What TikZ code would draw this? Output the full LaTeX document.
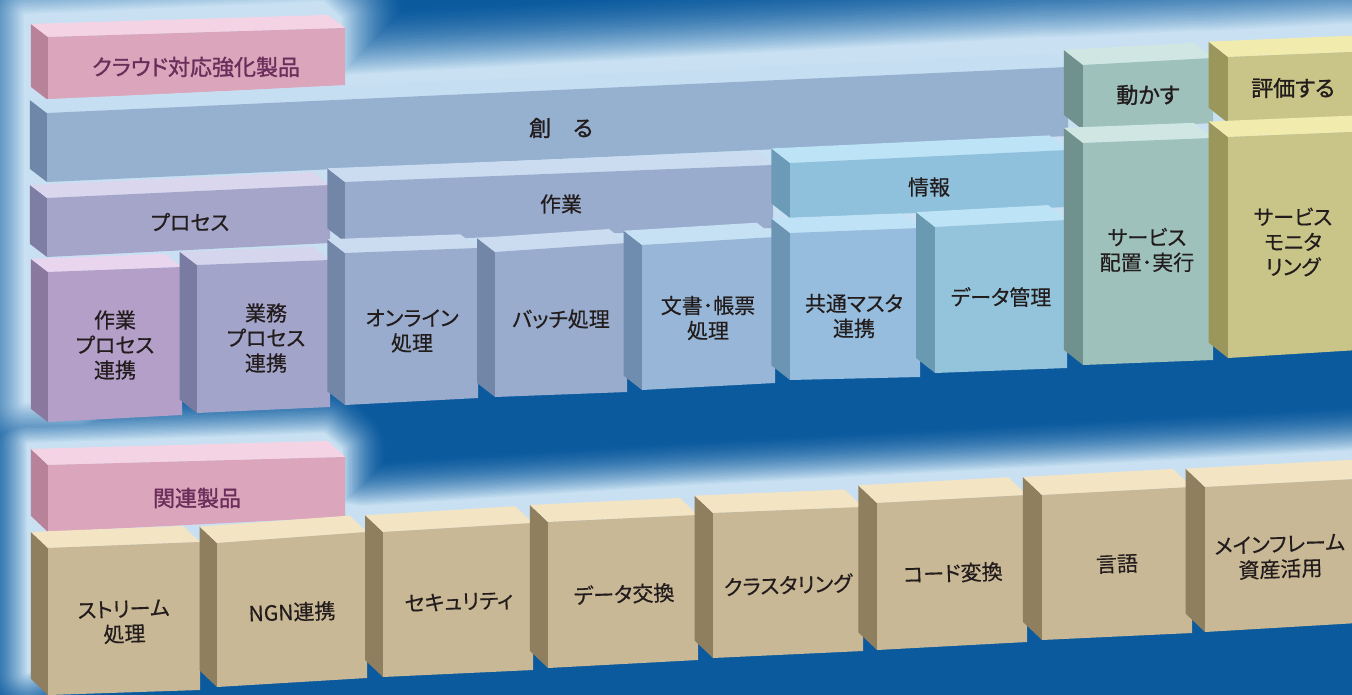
\documentclass[tikz,border=0pt]{standalone}
\usepackage{fontspec}
\newfontfamily\jp[RawFeature=+palt,FakeBold=0.4]{Noto Sans CJK JP}
\newfontfamily\jpm[RawFeature=+palt,FakeBold=1.2]{Noto Sans CJK JP}
\definecolor{bg}{HTML}{0B5A9E}
\definecolor{glow}{HTML}{D8ECF9}
\definecolor{txt}{HTML}{221C1C}
\definecolor{ptxt}{HTML}{6B2D5A}
% colour families: F front, T top, S side
\definecolor{pkF}{HTML}{DBA6BC}\definecolor{pkT}{HTML}{F4D4E4}\definecolor{pkS}{HTML}{B88298}
\definecolor{skF}{HTML}{96B0D0}\definecolor{skT}{HTML}{C6DEF2}\definecolor{skS}{HTML}{6F87A8}
\definecolor{prF}{HTML}{A5A5CA}\definecolor{prT}{HTML}{D9D6EE}\definecolor{prS}{HTML}{7E7DA3}
\definecolor{sgF}{HTML}{9AACCD}\definecolor{sgT}{HTML}{CBDCF1}\definecolor{sgS}{HTML}{7286A8}
\definecolor{jhF}{HTML}{8FC1DC}\definecolor{jhT}{HTML}{BCE3F6}\definecolor{jhS}{HTML}{6B9BB6}
\definecolor{mvF}{HTML}{B49FC8}\definecolor{mvT}{HTML}{E9D6EE}\definecolor{mvS}{HTML}{8A789E}
\definecolor{gmF}{HTML}{A3A4CA}\definecolor{gmT}{HTML}{D5D5EE}\definecolor{gmS}{HTML}{7A7BA2}
\definecolor{bsF}{HTML}{98B7D8}\definecolor{bsT}{HTML}{C6E0F4}\definecolor{bsS}{HTML}{6F8DAE}
\definecolor{kyF}{HTML}{96BDDD}\definecolor{kyT}{HTML}{BFE2F6}\definecolor{kyS}{HTML}{6C95B4}
\definecolor{dkF}{HTML}{93C4DB}\definecolor{dkT}{HTML}{BDE4F6}\definecolor{dkS}{HTML}{6A9AB1}
\definecolor{ugF}{HTML}{9EC1BB}\definecolor{ugT}{HTML}{D0E6E2}\definecolor{ugS}{HTML}{70918D}
\definecolor{hyF}{HTML}{C9C588}\definecolor{hyT}{HTML}{F1EBAE}\definecolor{hyS}{HTML}{9B965B}
\definecolor{tnF}{HTML}{C9B896}\definecolor{tnT}{HTML}{F3E4C4}\definecolor{tnS}{HTML}{8F7F5F}

\tikzset{
  lbl/.style={font=\jp\fontsize{21}{25}\selectfont, text=txt, align=center, inner sep=0pt},
  biglbl/.style={font=\jpm\fontsize{22}{26}\selectfont, text=txt, align=center, inner sep=0pt},
  plbl/.style={font=\jpm\fontsize{22}{26}\selectfont, text=ptxt, align=center, inner sep=0pt},
  blbl/.style={lbl, rotate=2},
}
\def\dyb{-13}
% \cube{name}{family}{x1}{x2}{top-left y}{top-right y}{bottom-left y}{bottom-right y}
\def\cube#1#2#3#4#5#6#7#8{%
  \pgfmathsetmacro\ddx{-17-0.002*#3}%
  \pgfmathsetmacro\ddy{\dyb-0.002*#3}%
  \fill[#2S] (#3,#5) -- (#3,#7) -- (#3+\ddx,#7+\ddy) -- (#3+\ddx,#5+\ddy) -- cycle;
  \fill[#2T] (#3,#5) -- (#4,#6) -- (#4+\ddx,#6+\ddy) -- (#3+\ddx,#5+\ddy) -- cycle;
  \fill[#2F] (#3,#5) -- (#4,#6) -- (#4,#8) -- (#3,#7) -- cycle;
  \coordinate (#1) at ({(#3+#4)/2},{(#5+#6+#7+#8)/4});
}
\def\topoutline{(30,412) -- (30,25) -- (328,12) -- (345,28) -- (345,86) -- (1048,48) -- (1063,48) -- (1195,42) -- (1208,42) -- (1343,35) -- (1420,33) -- (1420,250) -- (130,330) -- (80,412) -- cycle}
\def\botoutline{(32,680) -- (32,452) -- (328,442) -- (345,457) -- (345,512) -- (366,515) -- (680,495) -- (1420,456) -- (1420,560) -- (120,640) -- cycle}

\begin{document}
\begin{tikzpicture}[x=1pt,y=-1pt]
\useasboundingbox (0,0) rectangle (1352,695);
\clip (0,0) rectangle (1352,695);
\fill[bg] (0,0) rectangle (1352,695);

% soft glow behind the two groups (levels drawn from outer/dark to inner/light)
\foreach \i in {0,...,39}{
  \pgfmathsetmacro\wt{2+138*(1-\i/39)}
  \pgfmathsetmacro\wb{2+96*(1-\i/39)}
  \pgfmathtruncatemacro\p{92*(\i/39)^1.7}
  \draw[shift={(-4,-8)}, line width=\wb pt, draw=glow!\p!bg, fill=glow!\p!bg, line join=round] \botoutline;
  \draw[shift={(-5,-10)}, line width=\wt pt, draw=glow!\p!bg, fill=glow!\p!bg, line join=round] \topoutline;
}

% ---------- upper group ----------
\cube{cloud}{pk}{48}{345}{37}{28}{100}{85}
\cube{tsukuru}{sk}{47}{1068}{113}{67}{182}{136}
\cube{process}{pr}{47}{330}{198}{185}{257}{243}
\cube{sagyo}{sg}{345}{773}{182}{165}{242}{228}
\cube{joho}{jh}{790}{1068}{163}{150}{218}{207}
\cube{sagyoproc}{mv}{48}{182}{272}{267}{422}{415}
\cube{gyomu}{gm}{197}{330}{265}{260}{413}{407}
\cube{online}{sg}{345}{478}{253}{248}{405}{398}
\cube{batch}{sg}{495}{627}{252}{243}{397}{392}
\cube{bunsho}{bs}{642}{775}{245}{237}{390}{383}
\cube{kyotsu}{ky}{790}{920}{233}{228}{380}{377}
\cube{datakanri}{dk}{935}{1067}{227}{220}{373}{368}
\cube{ugokasu}{ug}{1083}{1213}{65}{58}{130}{123}
\cube{haichi}{ug}{1083}{1213}{143}{138}{365}{360}
\cube{hyoka}{hy}{1228}{1375}{57}{51}{123}{116}
\cube{monitor}{hy}{1228}{1375}{137}{131}{358}{349}

\node[plbl]   (tcloud)   at (196,67)  {クラウド対応強化製品};
\node[biglbl] (ttsukuru) at (561,128) {創　る};
\node[lbl]    (tprocess) at (190,222) {プロセス};
\node[lbl]    (tsagyo)   at (561,204) {作業};
\node[lbl]    (tjoho)    at (929,187) {情報};
\node[lbl]    (tsagyoproc) at (115,345) {作業\\プロセス\\連携};
\node[lbl]    (tgyomu)   at (266,338) {業務\\プロセス\\連携};
\node[lbl]    (tonline)  at (412,331) {オンライン\\処理};
\node[lbl]    (tbatch)   at (561,319) {バッチ処理};
\node[lbl]    (tbunsho)  at (708,318) {文書･帳票\\処理};
\node[lbl]    (tkyotsu)  at (854,316) {共通マスタ\\連携};
\node[lbl]    (tdata)    at (1001,297) {データ管理};
\node[biglbl] (tugokasu) at (1148,95) {動かす};
\node[lbl]    (thaichi)  at (1147,250) {サービス\\配置･実行};
\node[biglbl] (thyoka)   at (1293,88) {評価する};
\node[lbl]    (tmonitor) at (1293,242) {サービス\\モニタ\\リング};

% ---------- lower group ----------
\def\dyb{-16}
\cube{kanren}{pk}{48}{345}{465}{457}{532}{517}
\cube{stream}{tn}{48}{200}{548}{542}{695}{690}
\cube{ngn}{tn}{217}{367}{543}{532}{687}{678}
\cube{security}{tn}{383}{533}{532}{523}{677}{670}
\cube{dataex}{tn}{548}{698}{522}{515}{668}{660}
\cube{cluster}{tn}{713}{863}{513}{507}{658}{651}
\cube{code}{tn}{877}{1027}{503}{495}{650}{642}
\cube{gengo}{tn}{1042}{1192}{495}{487}{640}{633}
\cube{mainframe}{tn}{1205}{1375}{487}{478}{632}{622}

\node[plbl] (tkanren)   at (197,498) {関連製品};
\node[blbl] (tstream)   at (124,622) {ストリーム\\処理};
\node[blbl] (tngn)      at (292,612) {NGN連携};
\node[blbl] (tsecurity) at (459,602) {セキュリティ};
\node[blbl] (tdataex)   at (624,594) {データ交換};
\node[blbl] (tcluster)  at (788,585) {クラスタリング};
\node[blbl] (tcode)     at (953,573) {コード変換};
\node[blbl] (tgengo)    at (1117,564) {言語};
\node[blbl] (tmain)     at (1280,557) {メインフレーム\\資産活用};
\end{tikzpicture}
\end{document}
